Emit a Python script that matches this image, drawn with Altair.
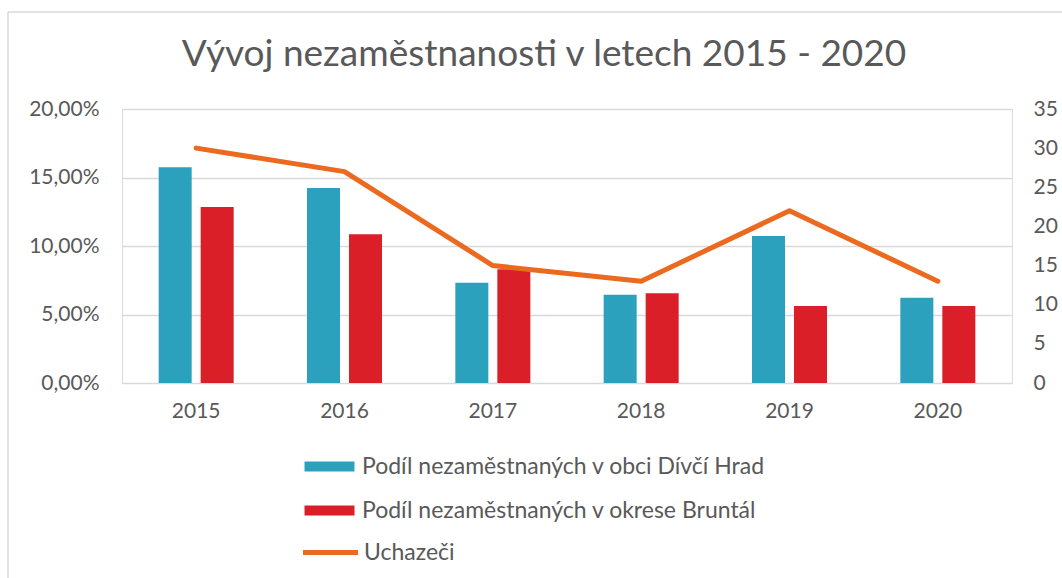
import altair as alt
import pandas as pd

years = ["2015", "2016", "2017", "2018", "2019", "2020"]
divci_hrad = [15.75, 14.23, 7.32, 6.45, 10.73, 6.23]   # %
bruntal = [12.85, 10.85, 8.30, 6.55, 5.62, 5.62]       # %
uchazeci = [30, 27, 15, 13, 22, 13]

s1 = "Podíl nezaměstnaných v obci Dívčí Hrad"
s2 = "Podíl nezaměstnaných v okrese Bruntál"
s3 = "Uchazeči"

bars_df = pd.DataFrame({
    "year": years * 2,
    "series": [s1] * len(years) + [s2] * len(years),
    "value": [v / 100 for v in divci_hrad] + [v / 100 for v in bruntal],
})
line_df = pd.DataFrame({"year": years, "series": [s3] * len(years), "count": uchazeci})

FONT = "Lato"
TXT = "#595959"
GRID = "#D9D9D9"

x_enc = alt.X("year:N", sort=years, title=None,
              scale=alt.Scale(paddingInner=0, paddingOuter=0),
              axis=alt.Axis(domain=False, ticks=False, labelAngle=0, labelPadding=17,
                            labelFontSize=21, labelColor=TXT, labelFont=FONT))

bars = alt.Chart(bars_df).mark_bar().encode(
    x=x_enc,
    xOffset=alt.XOffset("series:N", sort=[s1, s2],
                        scale=alt.Scale(paddingInner=0.214, paddingOuter=0.873)),
    y=alt.Y("value:Q", title=None,
            scale=alt.Scale(domain=[0, 0.2], nice=False),
            axis=alt.Axis(orient="left", values=[0, 0.05, 0.1, 0.15, 0.2],
                          labelExpr="replace(format(datum.value, '.2%'), '.', ',')",
                          domain=False, ticks=False, grid=True, gridColor=GRID, gridWidth=1.5,
                          labelPadding=23, labelFontSize=21, labelColor=TXT, labelFont=FONT)),
    color=alt.Color("series:N", sort=[s1, s2],
                    scale=alt.Scale(domain=[s1, s2], range=["#2CA1BE", "#DA1F28"]),
                    legend=alt.Legend(title=None, orient="none", legendX=196, legendY=346,
                                      direction="vertical",
                                      symbolType="M-2.5,-0.5H2.5V0.5H-2.5Z", symbolSize=400,
                                      symbolStrokeWidth=0, labelOffset=21, rowPadding=20,
                                      labelFontSize=23, labelColor=TXT, labelFont=FONT,
                                      labelLimit=0, padding=0)),
)

line = alt.Chart(line_df).mark_line(strokeWidth=5, strokeCap="round", strokeJoin="round").encode(
    x=alt.X("year:N", sort=years),
    y=alt.Y("count:Q", title=None,
            scale=alt.Scale(domain=[0, 35], nice=False),
            axis=alt.Axis(orient="right", values=[0, 5, 10, 15, 20, 25, 30, 35],
                          domain=False, ticks=False, grid=False,
                          labelPadding=21, labelFontSize=21, labelColor=TXT, labelFont=FONT)),
    stroke=alt.Stroke("series:N",
                      scale=alt.Scale(domain=[s3], range=["#EB6A1F"]),
                      legend=alt.Legend(title=None, orient="none", legendX=196, legendY=431,
                                        symbolType="M-2.75,0H2.75", symbolSize=400,
                                        symbolStrokeWidth=5, labelOffset=21,
                                        labelFontSize=23, labelColor=TXT, labelFont=FONT,
                                        labelLimit=0, padding=0)),
)

frame_df = pd.DataFrame({"k": [0]})
frame_left = alt.Chart(frame_df).mark_rule(color=GRID, strokeWidth=1.5).encode(
    x=alt.value(-114), y=alt.value(-97), y2=alt.value(480))
frame_top = alt.Chart(frame_df).mark_rule(color=GRID, strokeWidth=1.5).encode(
    x=alt.value(-114), x2=alt.value(960), y=alt.value(-97))

chart = alt.layer(frame_left, frame_top, bars, line).resolve_scale(
    y="independent"
).properties(
    width=890, height=274,
    title=alt.TitleParams(text="Vývoj nezaměstnanosti v letech 2015 - 2020",
                          fontSize=37, font=FONT, color=TXT, fontWeight="normal",
                          offset=-63, dx=-23, anchor="middle", frame="group"),
    autosize=alt.AutoSizeParams(type="none"),
    padding={"left": 122, "top": 109, "right": 50, "bottom": 195},
).configure_view(stroke=None).configure(background="white")

chart.save("out.html", embed_options={"renderer": "svg", "actions": False})
